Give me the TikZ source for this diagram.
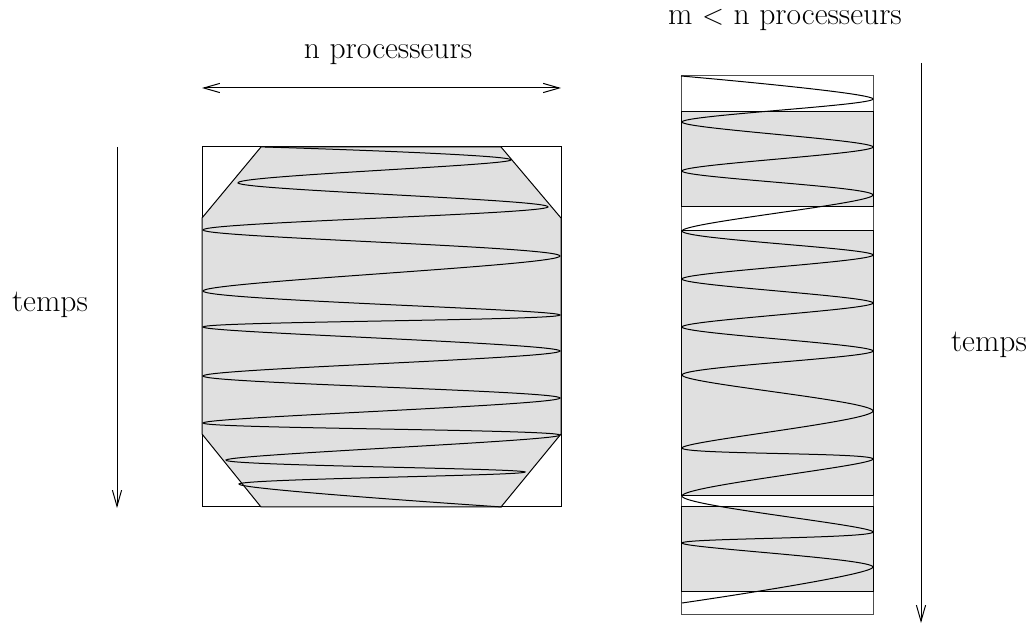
\documentclass[tikz,border=0pt]{standalone}
\usepackage{tikz}
\usetikzlibrary{arrows.meta}

\begin{document}
\begin{tikzpicture}[x=0.5pt, y=-0.5pt, line width=0.5pt,
    every node/.style={font=\fontsize{15.8}{19}\selectfont},
    >={Straight Barb[length=8pt,width=4.6pt]}]
  \useasboundingbox (0,0) rectangle (1029,625);

  % n processeurs
  \draw (202,147) rectangle (561,507);
  \draw[fill=black!12] (261,147) -- (501,147) -- (561,218) -- (561,434) -- (501,507)
    -- (261,507) -- (202,434) -- (202,218) -- cycle;
  \draw plot[smooth, tension=0.55] coordinates {(265,147) (511,160) (238,183) (548,207)
    (203,230) (560,256) (203,291) (560,315) (203,327) (560,351) (203,376) (560,398)
    (203,423) (560,435) (226,460) (525,472) (239,484) (502,507)};

  \node (np) at (388,55) {n processeurs};
  \coordinate (npl) at (202,88);
  \coordinate (npr) at (561,88);
  \draw[<->] (npl) -- (npr);

  \node (t1) at (50,305) {temps};
  \coordinate (t1a) at (117,147);
  \coordinate (t1b) at (117,508);
  \draw[->] (t1a) -- (t1b);

  % m < n processeurs
  \draw[black!70] (681,76) rectangle (873,615);
  \draw[fill=black!12] (681,112) rectangle (873,207);
  \draw[fill=black!12] (681,231) rectangle (873,496);
  \draw[fill=black!12] (681,507) rectangle (873,592);
  \draw plot[smooth, tension=0.5] coordinates {(681,76) (873,99) (682,122) (873,147)
    (682,171) (873,195) (682,231) (873,255) (682,279) (873,303) (682,327) (873,351)
    (682,375) (873,411) (682,448) (873,459) (682,496) (873,532) (682,543) (873,567)
    (682,603)};

  \node (mp) at (785,20) {m $<$ n processeurs};
  \node (t2) at (989,345) {temps};
  \coordinate (t2a) at (921,63);
  \coordinate (t2b) at (921,623);
  \draw[->] (t2a) -- (t2b);
\end{tikzpicture}
\end{document}
